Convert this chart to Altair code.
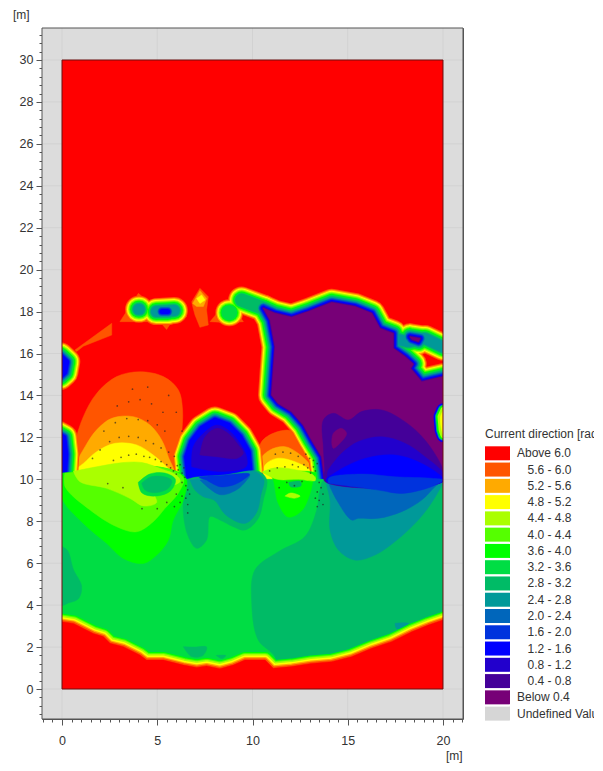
import altair as alt
import pandas as pd

# ---------- legend ----------
CLASS_LABELS = ["Above 6.0", "5.6 - 6.0", "5.2 - 5.6", "4.8 - 5.2", "4.4 - 4.8", "4.0 - 4.4",
                "3.6 - 4.0", "3.2 - 3.6", "2.8 - 3.2", "2.4 - 2.8", "2.0 - 2.4", "1.6 - 2.0",
                "1.2 - 1.6", "0.8 - 1.2", "0.4 - 0.8", "Below 0.4", "Undefined Value"]
CLASS_COLORS = ["#ff0000", "#ff5500", "#ffaa00", "#ffff00", "#aaff00", "#55ff00",
                "#00ff00", "#00dd44", "#00bb66", "#009999", "#0066bb", "#0033dd",
                "#0000ff", "#2200cc", "#440099", "#770077", "#d6d6d6"]
RED, D_OR, OR, YEL, YG, LG, LIME, G32, EM, TEAL, B20, B16, BLUE, B08, B04, PUR, GRAY = CLASS_COLORS

# ---------- contour outlines, in metres ----------
TAIL = [(.68, 16.17), (2.61, 17.44), (2.61, 16.88), (1.12, 16.35), (.77, 16.1)]
TRI_A = [(3.04, 17.52), (4.01, 18.87), (4.53, 18.47), (4.88, 18.63), (6.02, 18.63), (6.54, 17.76),
         (5.76, 17.52), (5.49, 17.15), (5.14, 17.52)]
TRI_B = [(7.77, 17.52), (8.73, 18.58), (9.52, 17.52), (8.82, 17.47)]
COL_A = [(6.81, 18.47), (7.24, 19.11), (7.68, 18.71), (7.59, 18.08), (7.68, 17.36), (7.24, 17.25),
         (6.98, 17.84), (6.86, 18.24)]
COL_B = [(6.86, 18.39), (7.24, 19.0), (7.59, 18.63), (7.42, 18.24), (7.07, 18.24)]
COL_C = [(7.07, 18.63), (7.33, 18.79), (7.51, 18.55), (7.24, 18.39)]

ARCH_L1 = [(.6, 10.2), (.6, 10.92), (.68, 11.72), (1.12, 12.99), (1.82, 14.1), (2.87, 14.9), (4.09, 15.13),
           (5.32, 14.9), (6.11, 14.26), (6.33, 13.31), (6.28, 12.03), (6.28, 11.08), (6.02, 10.2)]
ARCH_L2 = [(.77, 10.2), (.77, 10.76), (1.21, 11.56), (1.82, 12.36), (2.61, 12.91), (3.74, 12.99),
           (4.62, 12.59), (5.23, 11.88), (5.58, 11.08), (5.84, 10.2)]
ARCH_L3 = [(.6, 10.2), (.6, 10.37), (1.12, 10.76), (1.82, 11.32), (2.78, 11.72), (3.92, 11.64),
           (4.79, 11.16), (5.49, 10.6), (5.93, 10.2)]
ARCH_R1 = [(10.31, 10.0), (10.31, 11.08), (10.48, 11.8), (11.18, 12.23), (12.05, 12.32), (12.58, 11.88),
           (13.1, 11.08), (13.37, 10.45), (13.3, 10.0)]
ARCH_R2 = [(10.39, 10.0), (10.39, 10.92), (10.92, 11.4), (11.7, 11.56), (12.4, 11.24), (13.1, 10.6),
           (13.37, 10.0)]
ARCH_R3 = [(10.5, 10.0), (10.66, 10.68), (11.27, 11.0), (12.23, 10.84), (13.1, 10.37), (13.2, 10.0)]

MASS = [(10.57, 18.16), (11.18, 17.92), (12.05, 17.73), (12.93, 18.0), (14.16, 18.44), (15.38, 18.24),
        (16.26, 17.92), (16.69, 17.2), (17.39, 16.96), (17.39, 16.25), (18.01, 15.85), (18.44, 15.5),
        (18.3, 15.29), (18.88, 14.66), (20.02, 14.9), (20.1, 9.81), (13.81, 9.81), (13.63, 11.08),
        (13.1, 11.88), (12.67, 12.59), (12.05, 13.23), (11.35, 13.62), (11.0, 14.02), (11.09, 15.21),
        (11.18, 16.33), (10.92, 17.6)]
CENTER = [(6.63, 10.29), (6.54, 11.08), (6.81, 11.8), (7.33, 12.43), (8.03, 12.83), (8.73, 12.59),
          (9.34, 12.03), (9.78, 11.32), (9.87, 10.45), (9.8, 9.8), (6.7, 9.8)]
CENTER_08 = [(6.81, 10.6), (6.89, 11.56), (7.42, 12.19), (8.12, 12.59), (8.73, 12.35), (9.34, 11.72),
             (9.69, 11.08), (9.66, 10.6), (8.29, 10.37)]
CENTER_PUR = [(7.24, 11.16), (7.51, 12.03), (8.12, 12.43), (8.73, 12.19), (9.26, 11.64), (9.52, 11.24),
              (9.17, 11.0), (8.12, 11.08)]
LEFT_UP = [(-.1, 15.9), (.25, 15.6), (.15, 15.1), (-.1, 14.9)]
LEFT_LOW = [(-.3, 12.2), (.1, 12.0), (.2, 11.2), (.15, 10.4), (-.3, 10.2)]
SPOT_1 = [(4.02, 18.11), (4.06, 18.11)]
SPOT_2 = [(4.95, 18.0), (5.9, 18.05)]
SPOT_2B = [(5.25, 18.0), (5.55, 18.0)]
SPOT_4 = [(8.76, 17.95), (8.8, 17.95)]
BAND_E = [(17.39, 16.72), (18.18, 16.56), (19.05, 16.72), (20.02, 16.3)]
BAND_N = [(9.43, 18.55), (10.57, 18.16)]
SPOT_E = [(18.27, 16.8), (18.8, 16.72), (18.71, 16.57), (18.36, 16.68)]

MASS_04 = [(13.8, 10.45), (13.72, 11.56), (13.72, 12.83), (14.24, 13.15), (15.03, 12.83), (15.73, 13.23),
           (16.78, 13.31), (18.0, 12.75), (19.05, 11.88), (20, 10.45), (20, 9.9), (13.8, 9.9)]
MASS_PUR = [(14.16, 11.72), (14.24, 12.19), (14.68, 12.43), (14.94, 12.19), (14.59, 11.72), (14.24, 11.48)]
MASS_08 = [(13.98, 10.45), (14.68, 11.24), (15.56, 11.8), (16.78, 12.03), (18.0, 11.72), (19.05, 11.08),
           (20, 10.29), (20, 9.9), (13.98, 9.9)]
MASS_12 = [(13.89, 10.05), (14.86, 10.6), (15.91, 11.0), (17.48, 11.16), (18.88, 10.76), (20, 10.05),
           (20, 9.9), (13.89, 9.9)]
EDGE_CORE = [(20.02, 13.3), (19.87, 12.99), (19.93, 12.35), (20.02, 12.11)]

FIELD = [(0, 0), (20, 0), (20, 10.0), (0, 10.0)]
RIGHT_EM = [(11.18, 1.0), (11.18, 1.54), (10.3, 2.34), (9.96, 4.09), (10.13, 5.68), (11.36, 6.55),
            (12.75, 7.27), (13.37, 8.54), (13.54, 9.49), (13.8, 10.0), (20, 10.0), (20, 1.0)]
LEFT_EM = [(0, 6.8), (.3, 6.6), (.6, 5.7), (1.03, 4.9), (.86, 4.3), (.33, 4.1), (0, 4.0)]
MID_EM = [(6.46, 9.97), (6.37, 8.38), (6.63, 7.27), (7.07, 6.71), (7.59, 7.11), (7.77, 8.22), (8.29, 8.06),
          (8.99, 7.74), (9.6, 7.58), (10.3, 8.13), (10.57, 9.01), (10.75, 9.97), (10.4, 10.35), (9.9, 10.4),
          (8.5, 10.2), (7.0, 10.1)]
MID_TEAL = [(6.72, 9.97), (6.98, 9.49), (7.42, 9.17), (8.0, 9.0), (8.6, 8.3), (9.6, 7.9), (10.2, 8.4),
            (10.45, 9.3), (10.6, 9.97), (10.2, 10.35), (9.87, 10.4), (9.0, 10.2), (7.5, 10.1)]
MID_20 = [(7.24, 9.97), (8.29, 9.27), (9.17, 9.5), (9.7, 9.97), (9.85, 10.2), (8.5, 10.1)]
MID_16 = [(7.59, 9.97), (8.29, 9.65), (8.99, 9.73), (9.5, 9.97), (9.85, 10.25), (8.5, 10.2), (7.2, 10.1)]
R_TEAL = [(13.8, 10.0), (14.07, 9.01), (14.07, 7.58), (14.51, 6.63), (15.38, 6.15), (16.43, 6.39),
          (17.48, 7.03), (18.7, 8.06), (19.49, 9.01), (20.0, 9.89), (20, 10.0)]
R_20 = [(13.9, 10.0), (14.42, 9.01), (15.21, 8.06), (15.56, 8.14), (16.6, 8.14), (17.83, 8.46),
        (18.88, 9.01), (19.58, 9.65), (20, 10.0)]
R_16 = [(13.98, 9.81), (16.6, 9.49), (17.83, 9.33), (19.4, 9.65), (20, 9.97), (19.4, 10.05), (17.48, 10.12),
        (15.73, 10.25), (14.0, 10.05)]

LIME_L = [(0, 10.3), (.6, 10.35), (3, 10.6), (5, 10.6), (6.2, 10.3), (6.54, 9.97), (6.37, 9.01), (5.84, 8.06),
          (5.58, 7.1), (4.97, 6.39), (4.27, 5.99), (3.22, 6.23), (2.34, 6.95), (1.12, 7.9), (0, 9.1)]
LG_L = [(.15, 10.3), (.9, 10.35), (3, 10.6), (5, 10.6), (6.1, 10.3), (6.4, 10), (6.1, 9.33), (5.41, 8.62),
        (4.79, 7.98), (3.92, 7.5), (2.87, 7.74), (1.47, 8.54), (.16, 9.65)]
YG_L = [(.6, 10.38), (1.82, 10.6), (3.2, 10.8), (4.2, 10.8), (5.2, 10.5), (6, 10.2), (6.2, 9.9), (4.88, 9.33),
        (4.97, 8.89), (4.27, 8.73), (3.57, 9.09), (2.34, 9.57), (.94, 9.89)]
ISLE_G = [(4.0, 9.85), (4.6, 10.25), (5.4, 10.3), (5.95, 10.0), (5.7, 9.45), (4.9, 9.2), (4.2, 9.35)]
ISLE_EM = [(4.18, 9.81), (4.62, 10.1), (5.32, 10.13), (5.76, 9.94), (5.58, 9.57), (4.88, 9.36), (4.36, 9.49)]
LIME_R = [(10.9, 10.3), (11.09, 9.97), (11.35, 8.86), (11.88, 8.2), (12.58, 8.5), (13.02, 9.33), (13.19, 9.97),
          (13.3, 10.3)]
YG_R = [(10.5, 10.35), (11.2, 10.55), (12.3, 10.45), (13.2, 10.2), (13.3, 9.95), (12.4, 10.0), (11.3, 10.0)]
SPOT_R = [(11.7, 9.2), (12.2, 9.1), (12.5, 9.2), (12.0, 9.35)]
ISLE_R = [(11.9, 9.85), (12.5, 9.9), (12.55, 9.7), (12.0, 9.65)]
LOW_1 = [(6.37, 2.02), (7.0, 2.0), (7.59, 2.0), (7.4, 1.6), (6.8, 1.55)]
LOW_2 = [(8.1, 1.6), (8.6, 1.6), (8.4, 1.45)]
LOW_3 = [(17.48, 3.13), (18.18, 3.13), (17.92, 2.86), (17.56, 2.89)]
LOW_4 = [(18.7, 3.45), (19.1, 3.45), (18.9, 3.25)]

BOTTOM_CURVE = [(-.3, 3.25), (0, 3.21), (.6, 3.13), (1.12, 2.89), (1.64, 2.65), (2.17, 2.5), (2.52, 2.18), (3.22, 2.02),
                (4.09, 1.62), (4.44, 1.38), (5.32, 1.38), (6.37, 1.14), (7.07, 1.03), (7.59, 1.10), (8.29, .97),
                (8.99, 1.14), (9.6, 1.38), (10.66, 1.38), (11.09, .99), (12.06, 1.07), (13.1, 1.22), (14.16, 1.3),
                (15.2, 1.54), (16.26, 1.94), (17.3, 2.26), (18.36, 2.73), (19.23, 3.05), (20.0, 3.29), (20.3, 3.4)]
BOTTOM_RED = BOTTOM_CURVE + [(20.3, 0), (-.3, 0)]

DOTS_X = [6.3, 6.1, 6.0, 5.85, 6.4, 6.2, 6.05, 6.45, 6.3, 6.5, 5.7, 5.5, 5.2, 4.9, 4.6, 4.3, 3.9, 3.5, 3.1, 2.7,
          5.9, 5.6, 5.2, 4.8, 4.4, 4.0, 3.5, 3.0, 2.5, 2.0, 1.6, 5.4, 5.0, 4.5, 4.0, 3.4, 2.8, 2.2, 5.3, 4.7, 4.1,
          3.5, 2.9, 4.5, 3.7, 5.6, 6.0, 6.3, 6.6, 6.7, 6.5, 6.3, 6.6, 6.2, 5.9, 5.5, 6.0, 6.6, 5.0, 4.2, 3.2, 2.4,
          13.3, 13.2, 13.05, 12.9, 13.4, 13.2, 13.0, 12.7, 12.4, 12.1, 11.7, 11.3, 10.9, 12.8, 12.4, 12.0, 11.6, 11.2,
          13.5, 13.6, 13.4, 13.7, 13.3, 13.5, 13.7, 13.4, 12.6, 12.2, 11.8, 11.4]
DOTS_Y = [10.3, 10.45, 10.25, 10.4, 10.55, 10.7, 10.65, 10.1, 9.85, 9.7, 10.55, 10.7, 10.85, 10.95, 11.05, 11.1,
          11.2, 11.15, 11.05, 10.9, 11.1, 11.3, 11.5, 11.7, 11.85, 12.0, 12.05, 12.0, 11.8, 11.4, 11.0, 12.3, 12.6,
          12.8, 12.85, 12.9, 12.7, 12.3, 13.2, 13.6, 13.8, 13.7, 13.5, 14.4, 14.3, 14.0, 13.2, 12.3, 9.5, 9.3, 9.1,
          9.2, 8.8, 8.9, 8.7, 8.9, 9.3, 8.4, 8.6, 8.6, 9.6, 9.8,
          10.4, 10.6, 10.3, 10.55, 10.75, 10.9, 11.0, 10.7, 10.6, 10.7, 10.6, 10.55, 10.4, 11.2, 11.1, 11.25, 11.3,
          11.2, 9.85, 9.6, 9.4, 9.3, 9.1, 9.0, 8.8, 8.7, 9.9, 9.7, 9.85, 9.6]

X_MINOR = [i * 0.5 for i in range(-2, 43)]
Y_MINOR = [round(i * 0.4, 1) for i in range(-3, 79)]
X_GRID = [0, 5, 10, 15, 20]
Y_GRID = list(range(0, 32, 2))

# ---------- scales and axes ----------
xscale = alt.Scale(domain=[-1.05, 21.05], nice=False, zero=False)
yscale = alt.Scale(domain=[-1.43, 31.526], nice=False, zero=False)
xaxis = alt.Axis(values=X_MINOR, title=None, grid=False, domain=False, labelOverlap=False,
                 tickSize={"condition": {"test": "datum.value % 5 == 0", "value": 6}, "value": 3},
                 labelExpr="datum.value % 5 == 0 ? format(datum.value, '.0f') : ''",
                 labelPadding=9, labelFont="Liberation Sans", labelFontSize=12.5,
                 labelColor="#333333", tickColor="#555555")
yaxis = alt.Axis(values=Y_MINOR, title=None, grid=False, domain=False, labelOverlap=False,
                 tickSize={"condition": {"test": "abs(datum.value % 2) < 0.01", "value": 6}, "value": 3},
                 labelExpr="abs(datum.value % 2) < 0.01 ? format(datum.value, '.0f') : ''",
                 labelPadding=3, labelFont="Liberation Sans", labelFontSize=12.5,
                 labelColor="#333333", tickColor="#555555")
X = alt.X("x:Q", scale=xscale, axis=xaxis)
Y = alt.Y("y:Q", scale=yscale, axis=yaxis)


def table(pts, close=True, name="s"):
    rows = list(pts) + ([pts[0]] if close else [])
    return pd.DataFrame({"x": [p[0] for p in rows], "y": [p[1] for p in rows],
                         "i": list(range(len(rows))), "s": name})


def fill(pts, color, smooth=True):
    return alt.Chart(table(pts)).mark_line(fill=color, stroke=color, strokeWidth=0.5, clip=True,
                                           interpolate="catmull-rom" if smooth else "linear").encode(
        x=X, y=Y, order="i:Q")


def box(x0, x1, y0, y1, **kw):
    d = pd.DataFrame({"x": [x0], "x1": [x1], "y": [y0], "y1": [y1]})
    return alt.Chart(d).mark_rect(**kw).encode(x=X, x2="x1:Q", y=Y, y2="y1:Q")


layers = [box(0, 20, 0, 30, color=RED)]
for pts, c in [(TAIL, D_OR), (TRI_A, D_OR), (TRI_B, D_OR), (COL_A, D_OR), (COL_B, OR), (COL_C, YEL)]:
    layers.append(fill(pts, c, smooth=False))
for pts, c in [(ARCH_L1, D_OR), (ARCH_L2, OR), (ARCH_L3, YEL), (ARCH_R1, D_OR), (ARCH_R2, OR), (ARCH_R3, YEL)]:
    layers.append(fill(pts, c))

# nested transition bands round each core: (colour, half stroke width)
LEVELS = [(D_OR, 13.5), (OR, 12.5), (YEL, 11.5), (YG, 10.5), (LG, 9.5), (LIME, 8.5), (G32, 7.5), (EM, 6.5),
          (TEAL, 5.5), (B20, 4.5), (B16, 3.5), (BLUE, 2.5), (B08, 1.5), (B04, 0.7)]
CORES = [("mass", MASS, True, 13), ("center", CENTER, True, 11), ("lu", LEFT_UP, True, 11), ("ll", LEFT_LOW, True, 11),
         ("s1", SPOT_1, False, 8), ("s2", SPOT_2, False, 8), ("s2b", SPOT_2B, False, 11), ("s4", SPOT_4, False, 6),
         ("be", BAND_E, False, 8), ("bn", BAND_N, False, 7), ("se", SPOT_E, True, 13)]
for n, (c, d) in enumerate(LEVELS):
    parts = [table(p, close, name) for name, p, close, depth in CORES if depth >= n]
    layers.append(alt.Chart(pd.concat(parts)).mark_line(
        color=c, strokeWidth=2 * d, strokeCap="round", strokeJoin="round", clip=True).encode(
        x=X, y=Y, detail="s:N", order="i:Q"))

for pts, c in [(MASS, PUR), (SPOT_E, PUR), (CENTER, BLUE), (LEFT_UP, BLUE), (LEFT_LOW, BLUE)]:
    layers.append(fill(pts, c, smooth=False))
for pts, c in [(CENTER_08, B08), (CENTER_PUR, B04)]:
    layers.append(fill(pts, c))

# small ring on the east edge
for c, d in [(BLUE, 7), (TEAL, 5.5), (LIME, 4.5), (YG, 3)]:
    layers.append(alt.Chart(table(EDGE_CORE)).mark_line(
        color=c, strokeWidth=2 * d, strokeCap="round", strokeJoin="round", clip=True).encode(x=X, y=Y, order="i:Q"))
layers.append(fill(EDGE_CORE, YEL))

layers.append(fill(FIELD, G32, smooth=False))
for pts, c in [(RIGHT_EM, EM), (LEFT_EM, EM), (MID_EM, EM), (MID_TEAL, TEAL), (MID_20, B20), (MID_16, B16),
               (R_TEAL, TEAL), (R_20, B20), (MASS_04, B04), (MASS_PUR, PUR), (MASS_08, B08), (MASS_12, BLUE), (R_16, B16),
               (LIME_L, LIME), (LG_L, LG), (YG_L, YG), (ISLE_G, G32),
               (ISLE_EM, EM), (LIME_R, LIME), (YG_R, YG), (SPOT_R, YG), (ISLE_R, EM),
               (LOW_1, EM), (LOW_2, EM), (LOW_3, TEAL), (LOW_4, EM)]:
    layers.append(fill(pts, c))

# bottom transition
for c, d in [(LIME, 8), (LG, 7), (YG, 6), (YEL, 4.5), (OR, 3), (D_OR, 1.8)]:
    layers.append(alt.Chart(table(BOTTOM_CURVE, close=False)).mark_line(
        color=c, strokeWidth=2 * d, strokeJoin="round", clip=True).encode(x=X, y=Y, order="i:Q"))
layers.append(fill(BOTTOM_RED, RED, smooth=False))

# mesh dots
layers.append(alt.Chart(pd.DataFrame({"x": DOTS_X, "y": DOTS_Y})).mark_circle(
    size=3, color="#222222", opacity=0.65).encode(x=X, y=Y))

# undefined margin, covering anything past the domain
MG = "#dcdcdc"
layers += [box(-1.05, 0, -1.43, 31.526, color=MG), box(20, 21.05, -1.43, 31.526, color=MG),
           box(0, 20, -1.43, 0, color=MG), box(0, 20, 30, 31.526, color=MG)]
GRIDC = "#d2d2d2"
layers.append(alt.Chart(pd.DataFrame({"x": X_GRID, "y": [-1.43] * 5, "y1": [0] * 5})).mark_rule(
    color=GRIDC, strokeWidth=1).encode(x=X, y=Y, y2="y1:Q"))
layers.append(alt.Chart(pd.DataFrame({"x": X_GRID, "y": [30] * 5, "y1": [31.526] * 5})).mark_rule(
    color=GRIDC, strokeWidth=1).encode(x=X, y=Y, y2="y1:Q"))
layers.append(alt.Chart(pd.DataFrame({"y": Y_GRID, "x": [-1.05] * len(Y_GRID), "x1": [0] * len(Y_GRID)})).mark_rule(
    color=GRIDC, strokeWidth=1).encode(x=X, x2="x1:Q", y=Y))
layers.append(alt.Chart(pd.DataFrame({"y": Y_GRID, "x": [20] * len(Y_GRID), "x1": [21.05] * len(Y_GRID)})).mark_rule(
    color=GRIDC, strokeWidth=1).encode(x=X, x2="x1:Q", y=Y))
layers.append(box(0, 20, 0, 30, fillOpacity=0, stroke="#6a1010", strokeWidth=1))
layers.append(box(-1.05, 21.05, -1.43, 31.526, fillOpacity=0, stroke="#555555", strokeWidth=1))

# legend and unit labels, placed in pixels relative to the plot origin
one = pd.DataFrame({"a": [0]})


def label(txt, px, py, **kw):
    return alt.Chart(one).mark_text(text=txt, align="left", baseline="middle", font="Liberation Sans",
                                    fontSize=12, color="#333333", **kw).encode(
        x=alt.value(px - 42), y=alt.value(py - 28))


layers.append(label("[m]", 13, 15))
layers.append(label("[m]", 446, 756))
layers.append(label("Current direction [rad]", 485, 434))
for n, (t, c) in enumerate(zip(CLASS_LABELS, CLASS_COLORS)):
    cy = 453.3 + n * 16.27
    layers.append(alt.Chart(one).mark_rect(color=c).encode(
        x=alt.value(485 - 42), x2=alt.value(510 - 42), y=alt.value(cy - 7 - 28), y2=alt.value(cy + 7 - 28)))
    single = n == 0 or n >= 15
    layers.append(label(t, 517 if single else 527.5, cy))

chart = alt.layer(*layers).properties(
    width=421, height=691,
    padding={"left": 34, "top": 20, "right": 131, "bottom": 44},
    autosize=alt.AutoSizeParams(type="none"),
).configure_view(fill="#dcdcdc", stroke="#555555", strokeWidth=1)

chart.save("out.html", embed_options={"renderer": "svg", "actions": False})
